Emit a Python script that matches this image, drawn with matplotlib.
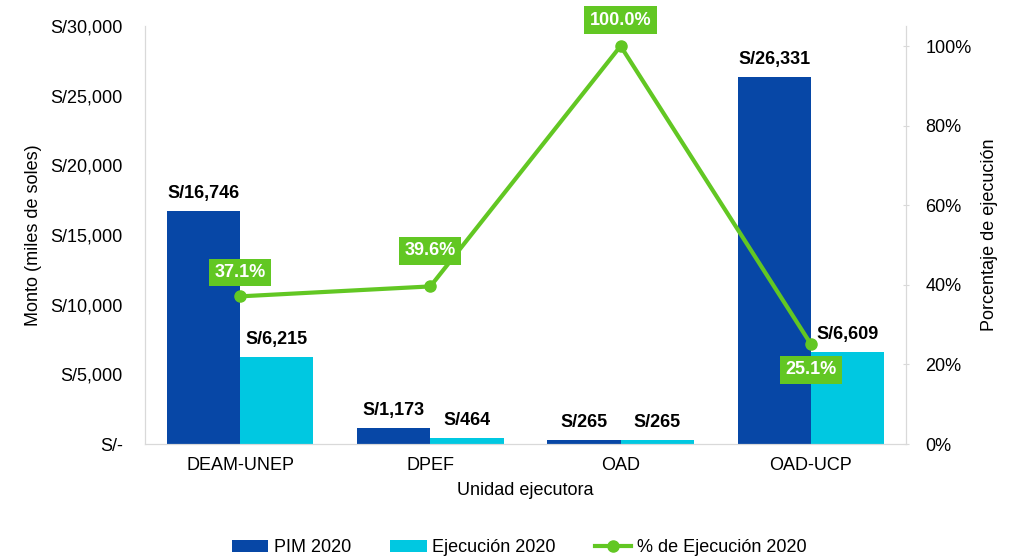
import numpy as np
import matplotlib.pyplot as plt
from matplotlib.ticker import FuncFormatter

plt.rcParams['font.family'] = ['Liberation Sans', 'DejaVu Sans']

unidades = ['DEAM-UNEP', 'DPEF', 'OAD', 'OAD-UCP']
pim_2020 = [16746, 1173, 265, 26331]
ejec_2020 = [6215, 464, 265, 6609]
pct_ejec = [37.1, 39.6, 100.0, 25.1]

c_pim = '#0747A6'
c_ejec = '#00C8E1'
c_line = '#62C723'

fig = plt.figure(figsize=(10.18, 5.56), dpi=100)
ax = fig.add_axes([0.1424, 0.2014, 0.7476, 0.7516])
ax2 = ax.twinx()

x = np.arange(len(unidades))
w = 0.385
b1 = ax.bar(x - w / 2, pim_2020, w, color=c_pim, label='PIM 2020', zorder=2)
b2 = ax.bar(x + w / 2, ejec_2020, w, color=c_ejec, label='Ejecución 2020', zorder=2)

for xi, v in zip(x, pim_2020):
    ax.text(xi - w / 2, v + 650, 'S/{:,}'.format(v), ha='center', va='bottom',
            fontsize=13, fontweight='bold')
for xi, v in zip(x, ejec_2020):
    ax.text(xi + w / 2, v + 650, 'S/{:,}'.format(v), ha='center', va='bottom',
            fontsize=13, fontweight='bold')

ax.set_xlim(-0.5, 3.5)
ax.set_ylim(0, 30000)
ax.set_yticks(np.arange(0, 30001, 5000))
ax.yaxis.set_major_formatter(FuncFormatter(lambda v, p: 'S/-' if v == 0 else 'S/{:,.0f}'.format(v)))
ax.set_xticks(x)
ax.set_xticklabels(unidades)
ax.set_xlabel('Unidad ejecutora', fontsize=13, labelpad=6)
ax.set_ylabel('Monto (miles de soles)', fontsize=13, labelpad=6)
ax.tick_params(axis='y', length=0, labelsize=13, pad=16)
ax.tick_params(axis='x', length=0, labelsize=13, pad=9)

ln, = ax2.plot(x, pct_ejec, color=c_line, lw=3, marker='o', ms=8,
               label='% de Ejecución 2020', zorder=3)
ax2.set_ylim(0, 105)
ax2.set_yticks(np.arange(0, 101, 20))
ax2.yaxis.set_major_formatter(FuncFormatter(lambda v, p: '{:.0f}%'.format(v)))
ax2.set_ylabel('Porcentaje de ejecución', fontsize=13, labelpad=7)
ax2.tick_params(axis='y', length=4, direction='inout', color='#d9d9d9',
                labelsize=13, pad=12)

offsets = [6, 9, 6.5, -6.5]
for xi, v, off in zip(x, pct_ejec, offsets):
    ax2.text(xi, v + off, '{:.1f}%'.format(v), ha='center', va='center',
             fontsize=13, fontweight='bold', color='white', zorder=4,
             bbox=dict(boxstyle='square,pad=0.3', fc=c_line, ec='none'))

for a in (ax, ax2):
    a.spines['top'].set_visible(False)
    for s in ('left', 'right', 'bottom'):
        a.spines[s].set_color('#d9d9d9')

fig.legend(handles=[b1, b2, ln], loc='lower center', ncol=3, frameon=False,
           fontsize=13, bbox_to_anchor=(0.51, -0.03), handlelength=2.0,
           handleheight=0.6, columnspacing=2.2, handletextpad=0.3)

fig.savefig('out.png', dpi=100)
plt.close(fig)
